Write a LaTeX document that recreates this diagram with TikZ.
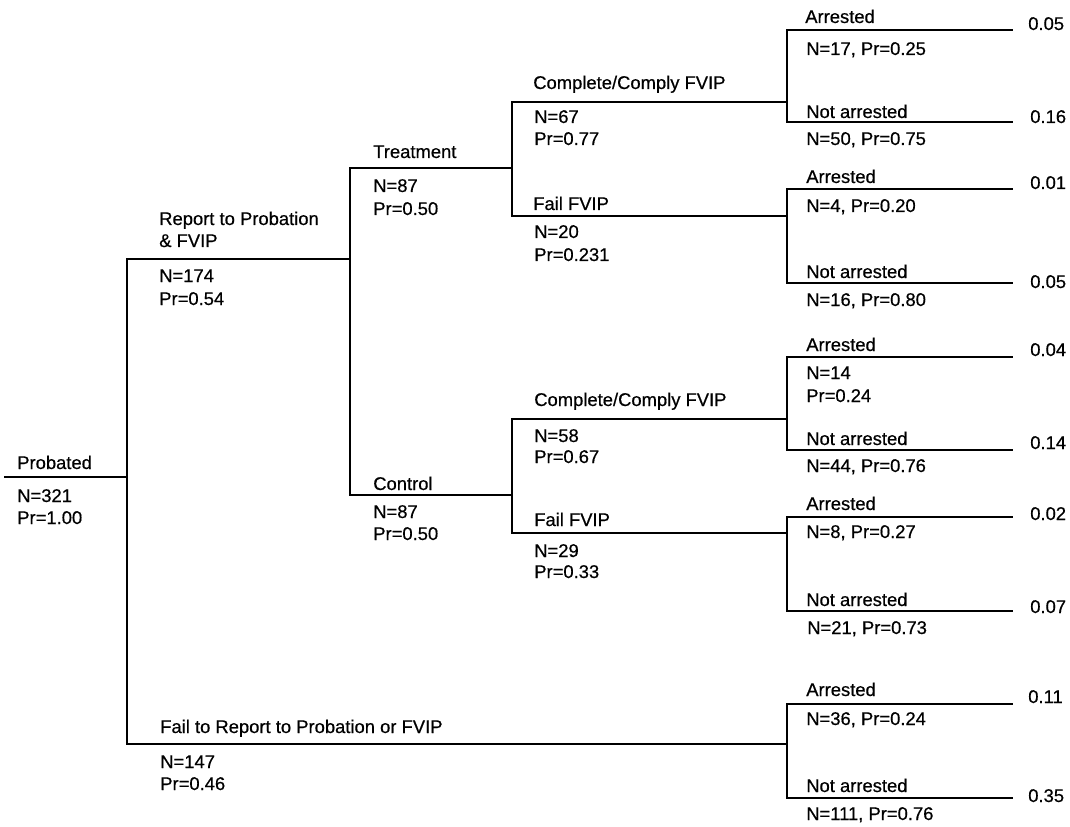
\documentclass[tikz,border=0pt]{standalone}
\usepackage{fontspec}
\setmainfont{Liberation Sans}[FakeBold=0.5]
\begin{document}
\begin{tikzpicture}[x=0.75pt,y=-0.75pt,
  br/.style={line width=1.35pt, line cap=rect},
  lbl/.style={anchor=base west, inner sep=0pt, font=\fontsize{13.8pt}{16pt}\selectfont}]
\useasboundingbox[fill=white] (0,0) rectangle (1070,827);
% ---------- branch coordinates ----------
\coordinate (r0) at (5,477);   \coordinate (r1) at (127,477);
\coordinate (rp0) at (127,259); \coordinate (rp1) at (350,259);
\coordinate (fr0) at (127,744); \coordinate (fr1) at (787,744);
\coordinate (tr0) at (350,168); \coordinate (tr1) at (512,168);
\coordinate (co0) at (350,495); \coordinate (co1) at (512,495);
\coordinate (cc1a) at (512,102); \coordinate (cc1b) at (787,102);
\coordinate (ff1a) at (512,216); \coordinate (ff1b) at (787,216);
\coordinate (cc2a) at (512,419); \coordinate (cc2b) at (787,419);
\coordinate (ff2a) at (512,533); \coordinate (ff2b) at (787,533);
\coordinate (a1a) at (787,30);  \coordinate (a1b) at (1012,30);
\coordinate (n1a) at (787,122); \coordinate (n1b) at (1012,122);
\coordinate (a2a) at (787,189); \coordinate (a2b) at (1012,189);
\coordinate (n2a) at (787,283); \coordinate (n2b) at (1012,283);
\coordinate (a3a) at (787,357); \coordinate (a3b) at (1012,357);
\coordinate (n3a) at (787,450); \coordinate (n3b) at (1012,450);
\coordinate (a4a) at (787,517); \coordinate (a4b) at (1012,517);
\coordinate (n4a) at (787,611); \coordinate (n4b) at (1012,611);
\coordinate (a5a) at (787,704); \coordinate (a5b) at (1012,704);
\coordinate (n5a) at (787,798); \coordinate (n5b) at (1012,798);
% ---------- branches ----------
\draw[br] (r0) -- (r1);
\draw[br] (rp1) -- (rp0) -- (fr0) -- (fr1);
\draw[br] (tr1) -- (tr0) -- (co0) -- (co1);
\draw[br] (cc1b) -- (cc1a) -- (ff1a) -- (ff1b);
\draw[br] (cc2b) -- (cc2a) -- (ff2a) -- (ff2b);
\draw[br] (a1b) -- (a1a) -- (n1a) -- (n1b);
\draw[br] (a2b) -- (a2a) -- (n2a) -- (n2b);
\draw[br] (a3b) -- (a3a) -- (n3a) -- (n3b);
\draw[br] (a4b) -- (a4a) -- (n4a) -- (n4b);
\draw[br] (a5b) -- (a5a) -- (n5a) -- (n5b);
% ---------- root ----------
\node[lbl] (tProb)  at (17,469) {Probated};
\node[lbl] (tProbN) at (17,502) {N=321};
\node[lbl] (tProbP) at (17,524) {Pr=1.00};
% ---------- report ----------
\node[lbl] (tRep1) at (159,225) {Report to Probation};
\node[lbl] (tRep2) at (159,247) {\& FVIP};
\node[lbl] (tRepN) at (159,282) {N=174};
\node[lbl] (tRepP) at (159,305) {Pr=0.54};
% ---------- fail to report ----------
\node[lbl] (tFR)  at (160,733) {Fail to Report to Probation or FVIP};
\node[lbl] (tFRN) at (160,768) {N=147};
\node[lbl] (tFRP) at (160,790) {Pr=0.46};
% ---------- treatment / control ----------
\node[lbl] (tTr)  at (373,158) {Treatment};
\node[lbl] (tTrN) at (373,192) {N=87};
\node[lbl] (tTrP) at (373,215) {Pr=0.50};
\node[lbl] (tCo)  at (373,490) {Control};
\node[lbl] (tCoN) at (373,518) {N=87};
\node[lbl] (tCoP) at (373,540) {Pr=0.50};
% ---------- treatment subtree ----------
\node[lbl] (tCC1)  at (533,89)  {Complete/Comply FVIP};
\node[lbl] (tCC1N) at (534,123) {N=67};
\node[lbl] (tCC1P) at (534,145) {Pr=0.77};
\node[lbl] (tFF1)  at (533,210) {Fail FVIP};
\node[lbl] (tFF1N) at (534,238) {N=20};
\node[lbl] (tFF1P) at (534,261) {Pr=0.231};
% ---------- control subtree ----------
\node[lbl] (tCC2)  at (534,406) {Complete/Comply FVIP};
\node[lbl] (tCC2N) at (534,442) {N=58};
\node[lbl] (tCC2P) at (534,463) {Pr=0.67};
\node[lbl] (tFF2)  at (534,526) {Fail FVIP};
\node[lbl] (tFF2N) at (534,557) {N=29};
\node[lbl] (tFF2P) at (534,578) {Pr=0.33};
% ---------- outcomes ----------
\node[lbl] (tA1)  at (805,23)  {Arrested};
\node[lbl] (tA1N) at (806,55)  {N=17, Pr=0.25};
\node[lbl] (tN1)  at (806,118) {Not arrested};
\node[lbl] (tN1N) at (806,145) {N=50, Pr=0.75};
\node[lbl] (tA2)  at (806,183) {Arrested};
\node[lbl] (tA2N) at (806,212) {N=4, Pr=0.20};
\node[lbl] (tN2)  at (806,278) {Not arrested};
\node[lbl] (tN2N) at (806,306) {N=16, Pr=0.80};
\node[lbl] (tA3)  at (806,351) {Arrested};
\node[lbl] (tA3N) at (806,379) {N=14};
\node[lbl] (tA3P) at (806,402) {Pr=0.24};
\node[lbl] (tN3)  at (806,445) {Not arrested};
\node[lbl] (tN3N) at (806,472) {N=44, Pr=0.76};
\node[lbl] (tA4)  at (806,510) {Arrested};
\node[lbl] (tA4N) at (806,538) {N=8, Pr=0.27};
\node[lbl] (tN4)  at (806,606) {Not arrested};
\node[lbl] (tN4N) at (807,634) {N=21, Pr=0.73};
\node[lbl] (tA5)  at (806,696) {Arrested};
\node[lbl] (tA5N) at (806,725) {N=36, Pr=0.24};
\node[lbl] (tN5)  at (806,792) {Not arrested};
\node[lbl] (tN5N) at (806,820) {N=111, Pr=0.76};
% ---------- end values ----------
\node[lbl] (v1)  at (1028,30)  {0.05};
\node[lbl] (v2)  at (1030,123) {0.16};
\node[lbl] (v3)  at (1030,189) {0.01};
\node[lbl] (v4)  at (1030,288) {0.05};
\node[lbl] (v5)  at (1030,356) {0.04};
\node[lbl] (v6)  at (1030,449) {0.14};
\node[lbl] (v7)  at (1030,520) {0.02};
\node[lbl] (v8)  at (1030,613) {0.07};
\node[lbl] (v9)  at (1028,703) {0.11};
\node[lbl] (v10) at (1028,802) {0.35};
\end{tikzpicture}
\end{document}
